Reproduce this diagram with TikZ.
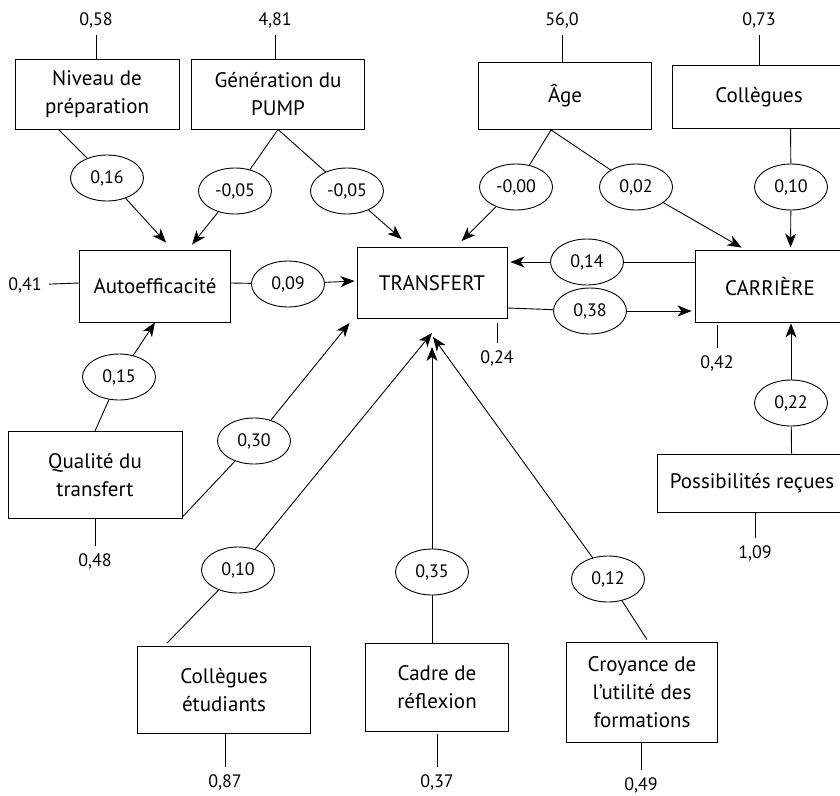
\documentclass[tikz,border=0pt]{standalone}
\usepackage{fontspec}
\setmainfont{PT Sans}
\usetikzlibrary{arrows.meta,shapes.geometric}

\tikzset{
    box/.style={draw, align=center, inner sep=0pt, font=\fontsize{21}{28}\selectfont},
    coef/.style={draw, ellipse, minimum width=73pt, minimum height=46pt, inner sep=0pt, font=\fontsize{18}{20}\selectfont},
    resid/.style={inner sep=7pt, font=\fontsize{18}{20}\selectfont},
}

\begin{document}
\begin{tikzpicture}[x=1pt, y=-1pt, line width=0.9pt, >={Stealth[length=14pt,width=11pt,inset=4pt]}]
                \useasboundingbox (0,0) rectangle (840,795);

                \node[box, minimum width=164pt, minimum height=70pt] (niveau) at (97,94) {Niveau de\\préparation};
                \node[box, minimum width=173pt, minimum height=70pt] (pump) at (278,94) {Génération du\\PUMP};
                \node[box, minimum width=173pt, minimum height=67pt] (age) at (565,96) {Âge};
                \node[box, minimum width=174pt, minimum height=63pt] (colleg) at (759,97) {Collègues};
                \node[box, minimum width=151pt, minimum height=72pt] (autoeff) at (155,286) {Autoefficacité};
                \node[box, minimum width=150pt, minimum height=71pt] (transfert) at (432,283) {TRANSFERT};
                \node[box, minimum width=150pt, minimum height=72pt] (carriere) at (770,286) {CARRIÈRE};
                \node[box, minimum width=174pt, minimum height=87pt] (qualite) at (95,475) {Qualité du\\transfert};
                \node[box, minimum width=190pt, minimum height=58pt] (possib) at (752,483) {Possibilités reçues};
                \node[box, minimum width=173pt, minimum height=87pt] (etud) at (224,690) {Collègues\\étudiants};
                \node[box, minimum width=143pt, minimum height=88pt] (cadre) at (437,687) {Cadre de\\réflexion};
                \node[box, minimum width=151pt, minimum height=100pt] (croyance) at (642,692) {Croyance de\\l'utilité des\\formations};

                % coefficients
                \node[coef] (w16) at (107,178) {0,16};
                \node[coef] (w05a) at (235,191) {-0,05};
                \node[coef] (w05b) at (347,191) {-0,05};
                \node[coef] (w00) at (516,187) {-0,00};
                \node[coef] (w02) at (636,187) {0,02};
                \node[coef] (w10c) at (791,187) {0,10};
                \node[coef] (w09) at (288,284) {0,09};
                \node[coef] (w14) at (587,262) {0,14};
                \node[coef] (w38) at (590,311) {0,38};
                \node[coef] (w15) at (119,377) {0,15};
                \node[coef] (w30) at (254,441) {0,30};
                \node[coef] (w22) at (791,403) {0,22};
                \node[coef] (w10e) at (238,570) {0,10};
                \node[coef] (w35) at (432,572) {0,35};
                \node[coef] (w12) at (608,579) {0,12};

                % residus
                \node[resid] (r58) at (96,20) {0,58};
                \node[resid] (r481) at (275,20) {4,81};
                \node[resid] (r560) at (562,20) {56,0};
                \node[resid] (r73) at (759,20) {0,73};
                \node[resid] (r41) at (25,285) {0,41};
                \node[resid] (r24) at (497,358) {0,24};
                \node[resid] (r42) at (717,363) {0,42};
                \node[resid] (r48) at (95,561) {0,48};
                \node[resid] (r109) at (755,553) {1,09};
                \node[resid] (r87) at (225,782) {0,87};
                \node[resid] (r37) at (437,782) {0,37};
                \node[resid] (r49) at (641,785) {0,49};

                \draw[-] (r58) -- (r58 |- niveau.north);
                \draw[-] (r481) -- (r481 |- pump.north);
                \draw[-] (r560) -- (r560 |- age.north);
                \draw[-] (r73) -- (r73 |- colleg.north);
                \draw[-] (r41) -- ([yshift=3pt]autoeff.west);
                \draw[-, shorten >=4pt] (r24) -- (r24 |- transfert.south);
                \draw[-, shorten >=3pt] (r42) -- (r42 |- carriere.south);
                \draw[-] (r48) -- (r48 |- qualite.south);
                \draw[-] (r109) -- (r109 |- possib.south);
                \draw[-] (r87) -- (r87 |- etud.south);
                \draw[-, shorten >=3pt] (r37) -- (r37 |- cadre.south);
                \draw[-] (r49) -- (r49 |- croyance.south);

                \draw[-] ([xshift=44pt]niveau.south west) -- (w16);
                \draw[->] (w16) -- ([xshift=87pt,yshift=7pt]autoeff.north west);
                \draw[-] (pump.south) -- (w05a);
                \draw[->] (w05a) -- ([xshift=113pt,yshift=5pt]autoeff.north west);
                \draw[-] (pump.south) -- (w05b);
                \draw[->] (w05b) -- ([xshift=45pt,yshift=8pt]transfert.north west);
                \draw[-] ([xshift=73pt]age.south west) -- (w00);
                \draw[->] (w00) -- ([xshift=105pt,yshift=6pt]transfert.north west);
                \draw[-] ([xshift=73pt]age.south west) -- (w02);
                \draw[->] (w02) -- ([xshift=47pt,yshift=2pt]carriere.north west);
                \draw[-] ([xshift=119pt]colleg.south west) -- (w10c);
                \draw[->] (w10c) -- ([xshift=96pt,yshift=2pt]carriere.north west);

                \draw[-] ([yshift=3pt]autoeff.east) -- (w09);
                \draw[->] (w09) -- ([xshift=-2pt,yshift=2pt]transfert.west);
                \draw[-] ([yshift=24pt]carriere.west) -- (w14);
                \draw[->] (w14) -- ([xshift=3pt,yshift=21pt]transfert.east);
                \draw[-] ([yshift=-25pt]transfert.east) -- (w38);
                \draw[->] (w38) -- ([xshift=-3pt,yshift=-25pt]carriere.west);

                \draw[-] (qualite.north) -- (w15);
                \draw[->] (w15) -- (autoeff.south);
                \draw[-] ([yshift=2pt]qualite.south east) -- (w30);
                \draw[->] (w30) -- ([xshift=-7pt,yshift=-4pt]transfert.south west);
                \draw[-] (possib.north west) ++(135pt,0) -- (w22);
                \draw[->] (w22) -- ([xshift=21pt,yshift=-1pt]carriere.south);

                \draw[-] ([xshift=30pt,yshift=3pt]etud.north west) -- (w10e);
                \draw[->] (w10e) -- ([yshift=-14pt]transfert.south);
                \draw[-] ([xshift=-5pt]cadre.north) -- (w35);
                \draw[->] (w35) -- ([yshift=-28pt]transfert.south);
                \draw[-] ([xshift=5pt,yshift=2pt]croyance.north) -- (w12);
                \draw[->] (w12) -- ([xshift=1pt,yshift=-18pt]transfert.south);
            \end{tikzpicture}
\end{document}
